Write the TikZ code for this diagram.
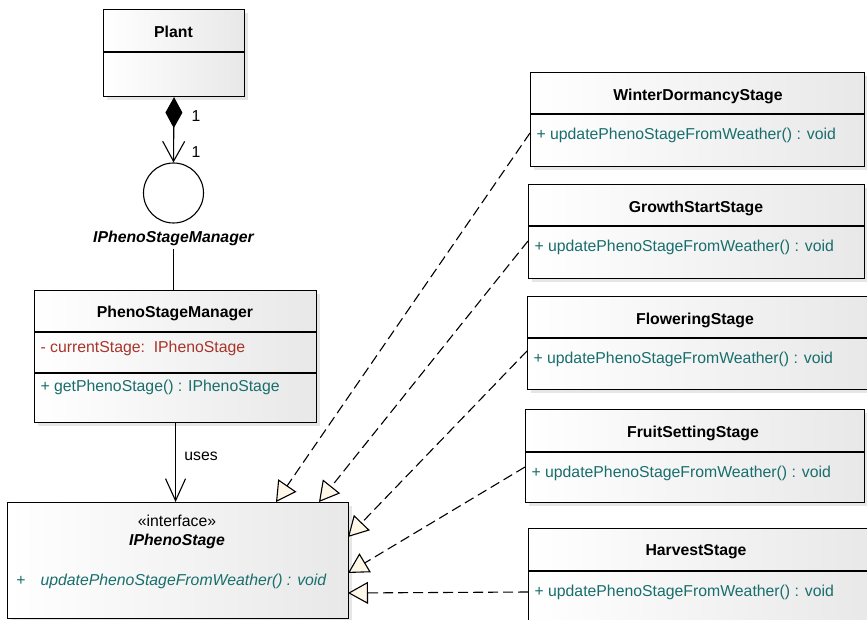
\documentclass[tikz,border=0pt]{standalone}
\usepackage{fontspec}
\setmainfont{Liberation Sans}
\usetikzlibrary{arrows.meta,calc,shadows}
\definecolor{AttrRed}{RGB}{168,52,42}
\definecolor{OpTeal}{RGB}{24,110,108}
\definecolor{TipCream}{RGB}{255,248,232}
\newcommand{\umlfont}{\fontsize{15.8}{18}\selectfont}
\tikzset{
  umlbox/.style={draw,line width=1.1pt,anchor=north west,inner sep=0pt,
    left color=white,middle color=white,right color=black!9,
    drop shadow={opacity=.2,shadow xshift=3pt,shadow yshift=-3pt}},
  hdr/.style={font=\umlfont\bfseries},
  hdrit/.style={font=\umlfont\bfseries\itshape},
  op/.style={text=OpTeal,anchor=west},
  realize/.style={line width=1.1pt,dash pattern=on 10pt off 5pt,
    -{Triangle[length=20pt,width=22pt,fill=TipCream]}},
}

\begin{document}
\begin{tikzpicture}[x=1pt,y=-1pt,font=\umlfont]
  \useasboundingbox (0,0) rectangle (867,620);
  \clip (0,0) rectangle (867,620);
  % Plant and the lollipop
  \node[umlbox,minimum width=141pt,minimum height=87pt] (plant) at (103,9) {};
  \draw[line width=1.1pt] (103,52) -- (244,52);
  \node[hdr] at (173.5,32) {Plant};
  \node[circle,draw,line width=1.1pt,fill=white,minimum size=60pt] (lolly) at (173.5,193) {};
  \draw[line width=1.1pt,{Diamond[length=31pt,width=17pt,fill=black]}-{Straight Barb[length=20pt,width=22pt]}]
    (plant.south) -- (lolly.north);
  \node at (196,116) {1};
  \node at (196,152) {1};
  \node[hdrit] (lollylbl) at (173.5,238) {IPhenoStageManager};
  % manager
  \node[umlbox,minimum width=282pt,minimum height=132pt] (psm) at (34,290) {};
  \draw[line width=1.1pt] (34,332) -- ++(282,0) (34,373) -- ++(282,0);
  \node[hdr] at (175,313) {PhenoStageManager};
  \node[anchor=west,text=AttrRed] at (37,348) {- currentStage:\ \ IPhenoStage};
  \node[op] at (37,387) {+ getPhenoStage() : IPhenoStage};
  \draw[line width=1.1pt] (lollylbl.south) -- (psm.north -| lollylbl.south);
  % interface
  \node[umlbox,minimum width=341pt,minimum height=116pt] (iface) at (7,502) {};
  \node at (177,521) {«interface»};
  \node[hdrit] at (177,541) {IPhenoStage};
  \node[text=OpTeal] at (21,581) {+};
  \node[op,font=\umlfont\itshape] at (37,581) {updatePhenoStageFromWeather() : void};
  \draw[line width=1.1pt,-{Straight Barb[length=22pt,width=20pt]}] (psm.south) -- (psm.south |- iface.north);
  \node at (201,456) {uses};
  % stages
  \foreach \n/\lbl/\x/\y/\w/\h/\d in {
      winter/WinterDormancyStage/530/72/334/94/42,
      growth/GrowthStartStage/528/184/336/94/42,
      flower/FloweringStage/527/296/343/93/42,
      fruit/FruitSettingStage/525/409/339/93/43,
      harvest/HarvestStage/528/528/345/120/43}{
    \node[umlbox,minimum width=\w pt,minimum height=\h pt] (\n) at (\x,\y) {};
    \draw[line width=1.1pt] (\x,{\y+\d}) -- ++(\w,0);
    \node[hdr] at ({\x+168},{\y+24}) {\lbl};
    \node[op] (op\n) at ({\x+3},{\y+\d+21}) {+ updatePhenoStageFromWeather() : void};
  }
  \coordinate (e1) at (276,502);
  \coordinate (e2) at (319,502);
  \coordinate (e3) at (348,537);
  \coordinate (e4) at (348,573);
  \coordinate (e5) at (348,593);
  \draw[realize] ($(winter.west |- opwinter)+(0,-2)$) -- (e1);
  \draw[realize] ($(growth.west |- opgrowth)+(0,-6)$) -- (e2);
  \draw[realize] ($(flower.west |- opflower)+(0,-8)$) -- (e3);
  \draw[realize] ($(fruit.west |- opfruit)+(0,-6)$) -- (e4);
  \draw[realize] (harvest.west |- opharvest) -- (e5);
\end{tikzpicture}
\end{document}
